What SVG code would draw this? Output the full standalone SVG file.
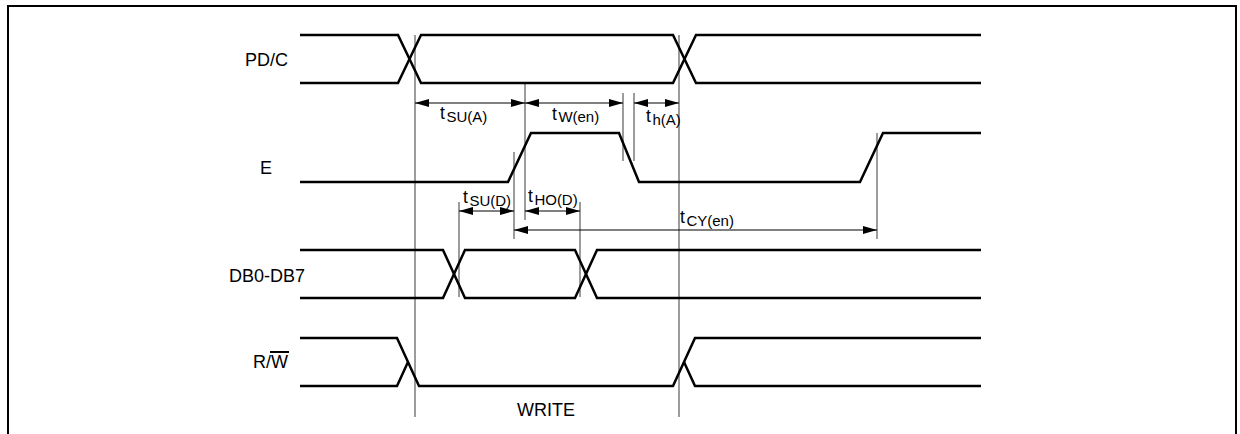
<svg xmlns="http://www.w3.org/2000/svg" width="1240" height="434" viewBox="0 0 1240 434">
<style>
.sig{fill:none;stroke:#000;stroke-width:2.5;stroke-linejoin:miter}
.guide{fill:none;stroke:#5a5a5a;stroke-width:1.2}
.dim{fill:none;stroke:#000;stroke-width:1;marker-start:url(#ah);marker-end:url(#ah)}
.lbl{font-family:"Liberation Sans",Arial,sans-serif;font-size:18px;fill:#000}
.t{font-family:"Liberation Sans",Arial,sans-serif;font-size:17.5px;fill:#000}
.sub{font-size:15px}
</style>
<defs>
<marker id="ah" viewBox="0 0 14 8" refX="14" refY="4" markerWidth="14" markerHeight="8" markerUnits="userSpaceOnUse" orient="auto-start-reverse">
<path d="M0,0 L14,4 L0,8 Z" fill="#000"/>
</marker>
</defs>
<rect width="1240" height="434" fill="#fff"/>
<g id="frame">
<path d="M8,434 V6 H1236 V434" fill="none" stroke="#000" stroke-width="2"/>
</g>
<g id="guides">
<line class="guide" x1="415" y1="35" x2="415" y2="417"/>
<line class="guide" x1="679" y1="35" x2="679" y2="417"/>
<line class="guide" x1="525" y1="84" x2="525" y2="220"/>
<line class="guide" x1="514" y1="152" x2="514" y2="239"/>
<line class="guide" x1="623" y1="93" x2="623" y2="161"/>
<line class="guide" x1="634" y1="93" x2="634" y2="161"/>
<line class="guide" x1="459" y1="202" x2="459" y2="297"/>
<line class="guide" x1="580" y1="202" x2="580" y2="297"/>
<line class="guide" x1="877" y1="133" x2="877" y2="239"/>
</g>
<g id="sig-pdc">
<text class="lbl" x="288" y="66" text-anchor="end">PD/C</text>
<path class="sig" d="M300,35 H398 L421,83 H673 L696,35 H981"/>
<path class="sig" d="M300,83 H398 L421,35 H673 L696,83 H981"/>
</g>
<g id="sig-e">
<text class="lbl" x="272" y="174" text-anchor="end">E</text>
<path class="sig" d="M300,182 H508 L531,133 H619 L639,182 H860 L883,133 H981"/>
</g>
<g id="sig-db">
<text class="lbl" x="305" y="282" text-anchor="end">DB0-DB7</text>
<path class="sig" d="M300,250 H443 L465,298 H575 L597,250 H981"/>
<path class="sig" d="M300,298 H443 L465,250 H575 L597,298 H981"/>
</g>
<g id="sig-rw">
<text class="lbl" x="288" y="368" text-anchor="end">R/W</text>
<line x1="270" y1="352" x2="289" y2="352" stroke="#000" stroke-width="2"/>
<path class="sig" d="M300,338 H397 L419,386 H673 L695,338 H981"/>
<path class="sig" d="M300,386 H397 L408,362"/>
<path class="sig" d="M684,362 L695,386 H981"/>
<text class="lbl" x="546" y="416" text-anchor="middle">WRITE</text>
</g>
<g id="connectors">
<line class="dim" x1="415" y1="103" x2="525" y2="103"/>
<line class="dim" x1="525" y1="103" x2="623" y2="103"/>
<line class="dim" x1="634" y1="103" x2="679" y2="103"/>
<line class="dim" x1="459" y1="211" x2="514" y2="211"/>
<line class="dim" x1="525" y1="211" x2="580" y2="211"/>
<line class="dim" x1="514" y1="230" x2="877" y2="230"/>
</g>
<g id="timing-labels">
<text class="t" x="440" y="119">t<tspan class="sub" dx="1.5" dy="2.5">SU(A)</tspan></text>
<text class="t" x="552" y="119.5">t<tspan class="sub" dx="1.5" dy="2.5">W(en)</tspan></text>
<text class="t" x="646" y="122">t<tspan class="sub" dx="1.5" dy="3">h(A)</tspan></text>
<text class="t" x="463" y="203">t<tspan class="sub" dx="1.5" dy="3">SU(D)</tspan></text>
<text class="t" x="528" y="202">t<tspan class="sub" dx="1.5" dy="3">HO(D)</tspan></text>
<text class="t" x="680" y="223">t<tspan class="sub" dx="1.5" dy="3">CY(en)</tspan></text>
</g>
</svg>
